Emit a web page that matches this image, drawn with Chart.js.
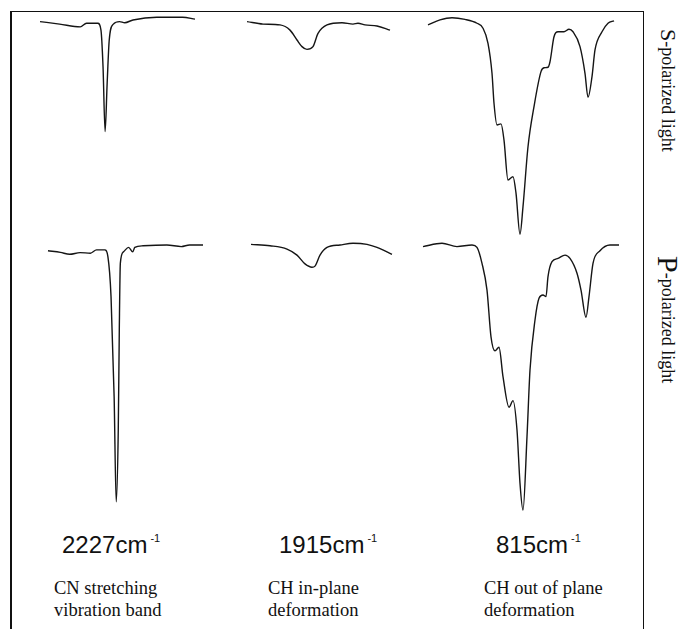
<!DOCTYPE html>
<html>
<head>
<meta charset="utf-8">
<script src="https://cdn.jsdelivr.net/npm/chart.js@4.4.1/dist/chart.umd.min.js"></script>
<style>
  html, body { margin: 0; padding: 0; background: #fff; }
  body { width: 689px; height: 629px; position: relative; overflow: hidden; }
  .frame { position: absolute; left: 10px; top: 11px; width: 631px; height: 640px;
           border-left: 2px solid #111; border-top: 1.5px solid #111; border-right: 1.5px solid #111; }
  .pane { position: absolute; }
  .wn { position: absolute; font-family: "Liberation Sans", Arial, sans-serif; font-size: 24px;
        line-height: 24px; color: #111; white-space: nowrap; }
  .wn sup { font-size: 11px; position: relative; top: -7px; margin-left: 3px; vertical-align: top; }
  .desc { position: absolute; font-family: "Liberation Serif", "Times New Roman", serif; font-size: 18.5px;
          line-height: 21.5px; color: #111; white-space: nowrap; }
  .side { position: absolute; writing-mode: vertical-rl; font-family: "Liberation Serif", "Times New Roman", serif;
          font-size: 18px; color: #111; white-space: nowrap; line-height: 24px; }
</style>
</head>
<body>
<div class="frame"></div>

<div class="wn" style="left:62px; top:533px;">2227cm<sup>-1</sup></div>
<div class="wn" style="left:279px; top:533px;">1915cm<sup>-1</sup></div>
<div class="wn" style="left:496px; top:533px;">815cm<sup>-1</sup></div>

<div class="desc" style="left:54px; top:578px;">CN stretching<br>vibration band</div>
<div class="desc" style="left:268px; top:578px;">CH in-plane<br>deformation</div>
<div class="desc" style="left:484px; top:578px;">CH out of plane<br>deformation</div>

<div class="side" style="left:656px; top:29px;"><span style="font-size:22px;">S</span>-polarized light</div>
<div class="side" style="left:656px; top:256px;"><span style="font-size:30px;">P</span>-polarized light</div>

<script>
// ---- Data: wavenumber (cm^-1) and transmittance (%) ----
// S-polarized light
const wnS_CN  = [2290,2271,2251,2245,2234,2231,2229,2227,2225,2223,2219,2213,2208,2200,2177,2152,2140];
const tS_CN   = [97.6,96.7,95.7,97.0,97.0,94.5,81.2,57.6,75.3,90.9,96.7,97.6,97.2,98.2,99.2,99.2,98.5];

const wnS_CHin = [1975,1959,1942,1932,1925,1920,1915,1909,1904,1895,1880,1869,1864,1857,1845,1832];
const tS_CHin  = [97.6,96.7,96.4,94.5,90.9,88.5,87.5,88.5,93.3,96.4,97.2,96.7,97.0,96.4,96.0,94.5];

const wnS_CHout = [907,895,883,870,858,852,847,843,841,838,834,831,827,822,819,815,812,807,801,794,
                   791,787,785,781,777,771,766,762,755,750,747,743,740,733,727,721];
const tS_CHout  = [96.4,98.2,99.0,98.4,97.0,95.2,89.7,78.8,67.9,60.0,60.4,54.5,40.0,41.2,35.2,20.3,30.3,52.1,66.7,79.4,
                   80.8,81.0,83.0,92.1,93.9,93.9,94.8,93.9,88.5,78.8,70.1,77.6,87.3,93.9,97.0,97.9];

// P-polarized light
const wnP_CN  = [2294,2282,2273,2263,2253,2247,2239,2236,2233,2230,2228,2226,2225,2224,2221,2216,2212,2210,2202,2179,2165,2157,2144];
const tP_CN   = [96.1,95.5,94.8,95.4,95.2,96.4,96.4,93.9,79.4,43.0,4.8,30.9,67.3,91.5,95.7,97.3,95.7,97.3,97.9,98.2,97.6,98.2,98.2];

const wnP_CHin = [1976,1957,1940,1930,1922,1915,1912,1907,1900,1887,1874,1860,1850,1835];
const tP_CHin  = [98.4,97.9,96.7,94.5,91.3,90.1,90.5,94.5,97.3,98.2,98.8,98.4,97.3,94.8];

const wnP_CHout = [915,896,881,866,861,856,851,847,843,839,835,829,825,821,818,815,811,808,803,799,
                   795,792,790,786,780,773,768,761,757,752,749,745,738,728,719];
const tP_CHout  = [97.6,98.8,97.6,98.2,97.3,91.5,81.8,64.8,59.7,61.0,50.3,39.2,41.6,30.9,11.5,1.8,28.5,52.7,70.9,78.8,
                   80.0,79.4,86.7,92.1,93.3,94.5,93.3,87.9,81.8,71.9,79.4,91.5,96.1,98.2,98.2];

// ---- Layout (plot areas in page pixels) ----
const PAD = 3;
const panels = [
  { wn: wnS_CN,    t: tS_CN,    left: 40,  right: 195, top: 15,  bottom: 290 },
  { wn: wnS_CHin,  t: tS_CHin,  left: 247, right: 390, top: 15,  bottom: 290 },
  { wn: wnS_CHout, t: tS_CHout, left: 428, right: 614, top: 15,  bottom: 290 },
  { wn: wnP_CN,    t: tP_CN,    left: 48,  right: 203, top: 240, bottom: 515 },
  { wn: wnP_CHin,  t: tP_CHin,  left: 251, right: 392, top: 240, bottom: 515 },
  { wn: wnP_CHout, t: tP_CHout, left: 423, right: 619, top: 240, bottom: 515 }
];

panels.forEach(p => {
  const div = document.createElement('div');
  div.className = 'pane';
  const w = p.right - p.left + 2 * PAD, h = p.bottom - p.top + 2 * PAD;
  div.style.left = (p.left - PAD) + 'px';
  div.style.top = (p.top - PAD) + 'px';
  div.style.width = w + 'px';
  div.style.height = h + 'px';
  const cv = document.createElement('canvas');
  cv.width = w; cv.height = h;
  div.appendChild(cv);
  document.body.appendChild(div);
  new Chart(cv, {
    type: 'line',
    data: {
      datasets: [{
        data: p.wn.map((x, i) => ({ x: x, y: p.t[i] })),
        borderColor: '#151515',
        borderWidth: 1.4,
        pointRadius: 0,
        cubicInterpolationMode: 'monotone',
        fill: false,
        clip: false
      }]
    },
    options: {
      responsive: false,
      devicePixelRatio: 1,
      animation: false,
      events: [],
      layout: { padding: PAD },
      plugins: { legend: { display: false }, tooltip: { enabled: false } },
      scales: {
        x: { type: 'linear', reverse: true, display: false,
             min: Math.min(...p.wn), max: Math.max(...p.wn) },
        y: { type: 'linear', display: false, min: 0, max: 100 }
      }
    }
  });
});
</script>
</body>
</html>
